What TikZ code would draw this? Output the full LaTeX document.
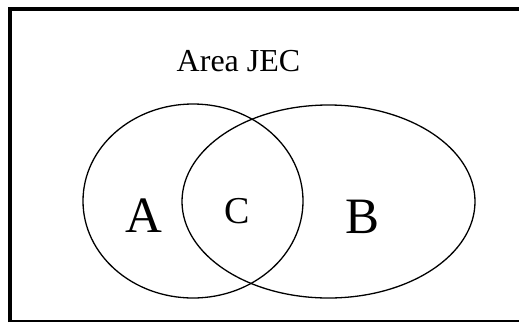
\documentclass[tikz,border=0pt]{standalone}
\usepackage{fontspec}
\setmainfont{Liberation Serif}
\begin{document}
\begin{tikzpicture}[x=1pt,y=-1pt,
  venn/.style={draw=black,line width=1.3pt},
  lbl/.style={inner sep=0pt,anchor=base}]
\useasboundingbox (0,0) rectangle (519,322);
\fill[white] (0,0) rectangle (519,322);
% frame
\draw[line width=3.5pt] (10,322) -- (10,9) -- (521,9);
\draw[line width=2pt] (10,321) -- (521,321);
% ellipses
\draw[venn] (193,201) ellipse [x radius=110, y radius=97];
\draw[venn] (328.5,201.5) ellipse [x radius=146.5, y radius=96.5];
% labels
\node[lbl,font=\fontsize{32}{36}\selectfont] (title) at (238.5,71) {Area JEC};
\node[lbl,font=\fontsize{51}{56}\selectfont] (A) at (144,232) {A};
\node[lbl,font=\fontsize{38}{42}\selectfont] (C) at (237,223.5) {C};
\node[lbl,font=\fontsize{51}{56}\selectfont] (B) at (363,233) {B};
\end{tikzpicture}
\end{document}
